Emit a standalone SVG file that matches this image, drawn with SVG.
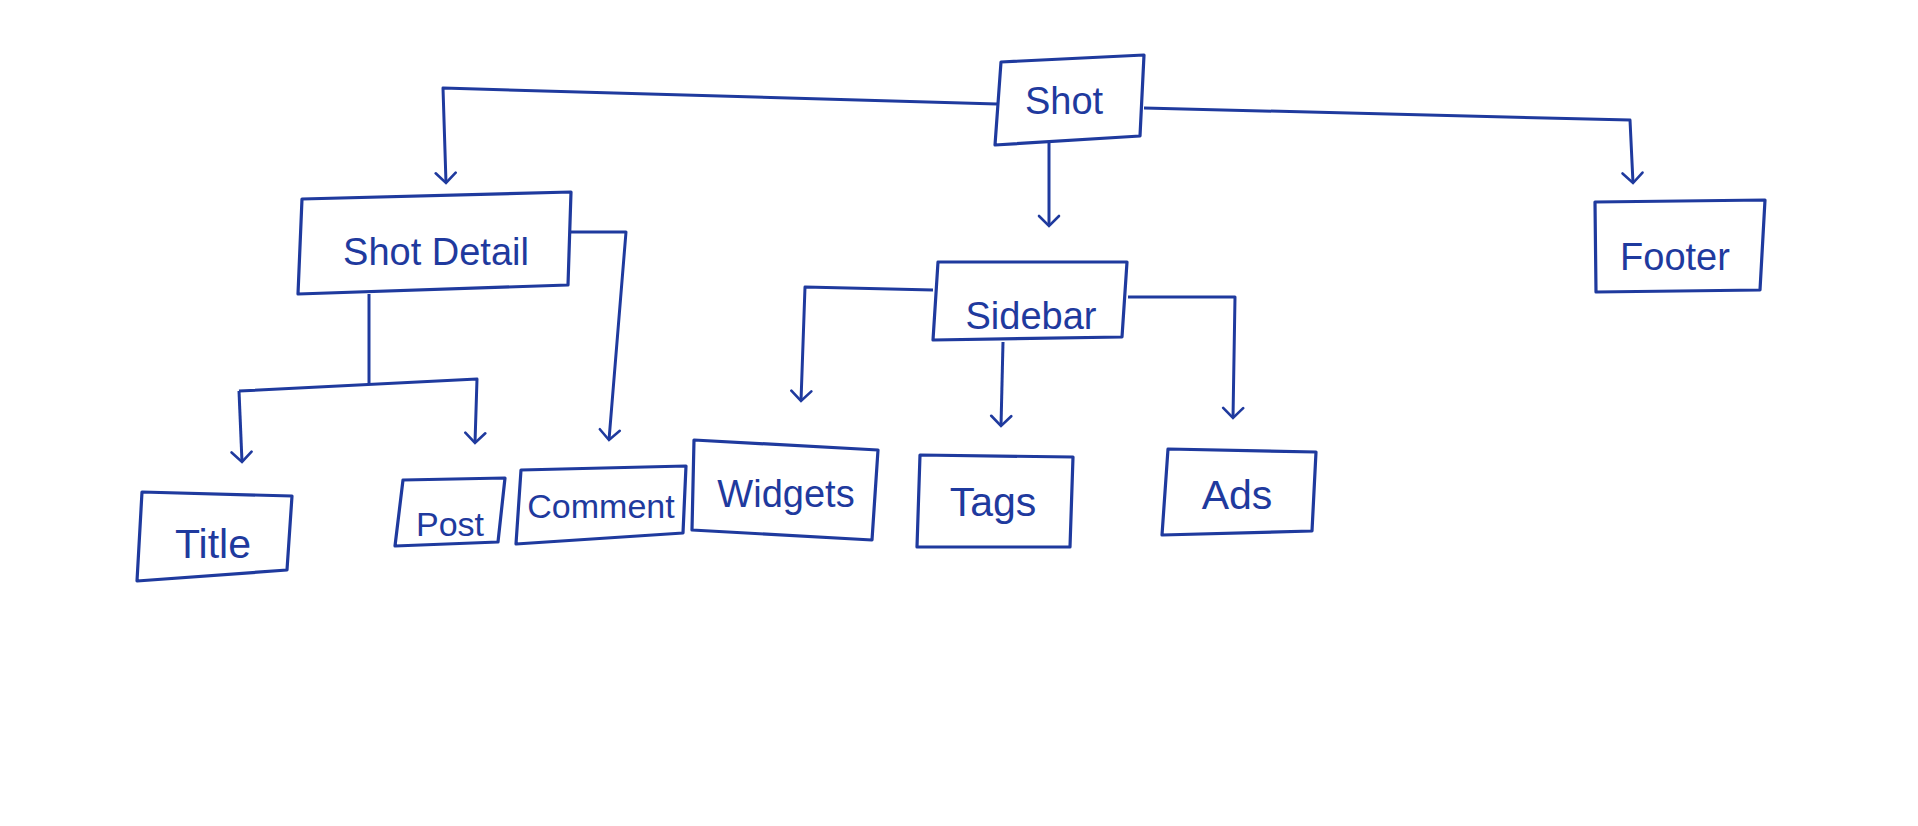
<svg xmlns="http://www.w3.org/2000/svg" width="1918" height="826" viewBox="0 0 1918 826">
<defs>
<style>
.box{fill:none;stroke:#1f3a9e;stroke-width:3.2;stroke-linejoin:round}
.edge{fill:none;stroke:#1f3a9e;stroke-width:3;stroke-linejoin:round}
.lbl{font-family:"Liberation Sans",Arial,sans-serif;font-size:38px;fill:#1f3a9e;text-anchor:middle;dominant-baseline:central}
.big{font-size:41px}
.sm{font-size:34px}
</style>
<marker id="arr" viewBox="-12 -12 24 24" markerWidth="24" markerHeight="24" refX="0" refY="0" orient="auto" markerUnits="userSpaceOnUse">
<path d="M-10,-10 L0,0 L-10,10" fill="none" stroke="#1f3a9e" stroke-width="2.6" stroke-linecap="round"/>
</marker>
</defs>
<rect width="1918" height="826" fill="#ffffff"/>
<g id="connectors">
<path class="edge" d="M997,104 L443,88 L446,183" marker-end="url(#arr)"/>
<path class="edge" d="M1144,108 L1630,120 L1633,183" marker-end="url(#arr)"/>
<path class="edge" d="M1049,143 L1049,226" marker-end="url(#arr)"/>
<path class="edge" d="M571,232 L626,232 L609,440" marker-end="url(#arr)"/>
<path class="edge" d="M369,294 L369,385"/>
<path class="edge" d="M239,391 L477,379 L475,443" marker-end="url(#arr)"/>
<path class="edge" d="M239,391 L242,462" marker-end="url(#arr)"/>
<path class="edge" d="M933,290 L805,287 L801,401" marker-end="url(#arr)"/>
<path class="edge" d="M1003,342 L1001,426" marker-end="url(#arr)"/>
<path class="edge" d="M1128,297 L1235,297 L1233,418" marker-end="url(#arr)"/>
</g>
<g id="shot">
<path class="box" d="M1001,62 L1144,55 L1140,136 L995,145 Z"/>
<text class="lbl" x="1064" y="101">Shot</text>
</g>
<g id="shot-detail">
<path class="box" d="M302,199 L571,192 L568,285 L298,294 Z"/>
<text class="lbl" x="436" y="252">Shot Detail</text>
</g>
<g id="sidebar">
<path class="box" d="M938,262 L1127,262 L1122,337 L933,340 Z"/>
<text class="lbl" x="1031" y="316">Sidebar</text>
</g>
<g id="footer">
<path class="box" d="M1595,202 L1765,200 L1760,290 L1596,292 Z"/>
<text class="lbl" x="1675" y="257">Footer</text>
</g>
<g id="title">
<path class="box" d="M142,492 L292,496 L287,570 L137,581 Z"/>
<text class="lbl big" x="213" y="544">Title</text>
</g>
<g id="post">
<path class="box" d="M403,480 L505,478 L498,542 L395,546 Z"/>
<text class="lbl sm" x="450" y="524">Post</text>
</g>
<g id="comment">
<path class="box" d="M521,470 L686,466 L683,533 L516,544 Z"/>
<text class="lbl sm" x="601" y="506">Comment</text>
</g>
<g id="widgets">
<path class="box" d="M694,440 L878,450 L872,540 L692,530 Z"/>
<text class="lbl" x="786" y="494">Widgets</text>
</g>
<g id="tags">
<path class="box" d="M920,455 L1073,457 L1070,547 L917,547 Z"/>
<text class="lbl big" x="993" y="502">Tags</text>
</g>
<g id="ads">
<path class="box" d="M1168,449 L1316,452 L1312,531 L1162,535 Z"/>
<text class="lbl big" x="1237" y="495">Ads</text>
</g>
</svg>
